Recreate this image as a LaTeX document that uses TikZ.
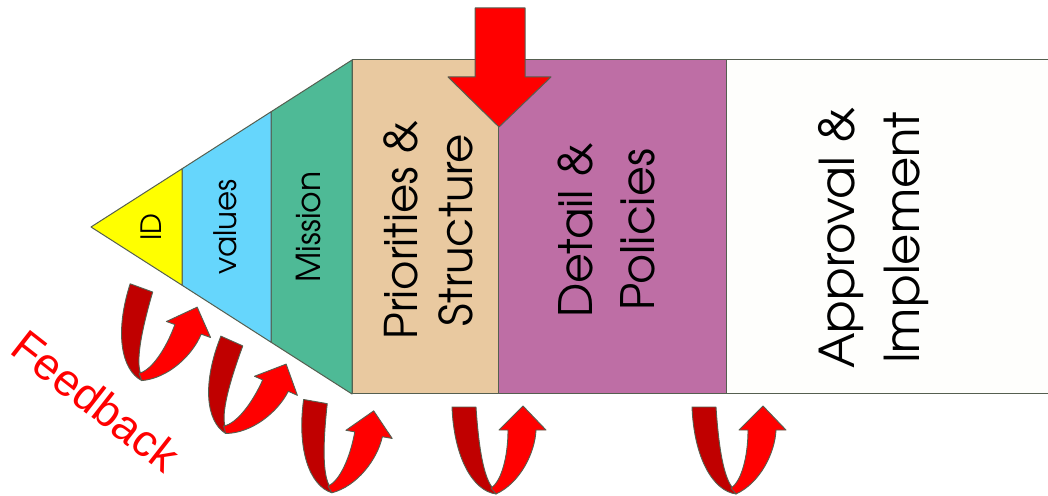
\documentclass[tikz,border=0pt]{standalone}
\usepackage{fontspec}
\setmainfont{TeX Gyre Adventor}
\newfontfamily\fbfont{Liberation Sans}
\definecolor{edgecol}{RGB}{85,95,80}
\definecolor{idyellow}{RGB}{255,255,0}
\definecolor{valblue}{RGB}{102,214,252}
\definecolor{misgreen}{RGB}{78,186,150}
\definecolor{priotan}{RGB}{233,201,160}
\definecolor{detpurple}{RGB}{190,110,165}
\definecolor{appwhite}{RGB}{254,254,252}
\definecolor{darkred}{RGB}{192,0,0}
\definecolor{brightred}{RGB}{255,0,0}
\tikzset{
  seg/.style={draw=edgecol, line width=1pt, line join=round},
  lbl/.style={rotate=90, align=center, text=black, inner sep=0pt},
  ribbon/.style={draw=edgecol, line width=0.9pt, line join=round},
  uturn/.pic={
    \filldraw[ribbon, fill=darkred] (-45,86) .. controls (-43,35) and (-24,2) .. (-1,-1)
       -- (-2,3) .. controls (-12,10) and (-18,40) .. (-21,86) -- cycle;
    \filldraw[ribbon, fill=brightred] (-1,-1) .. controls (23,10) and (38,40) .. (39,63)
       -- (49,63) -- (26,87) -- (2,63) -- (11,63)
       .. controls (11,38) and (5,12) .. (-6,5) -- cycle;
  }
}
\begin{document}
\begin{tikzpicture}[x=1pt,y=1pt]
\useasboundingbox (0,0) rectangle (1048,495);
\clip (0,0) rectangle (1048,495);
% boxes
\filldraw[seg, fill=appwhite] (726,101) rectangle (1060,435);
\filldraw[seg, fill=detpurple] (498,101) rectangle (726,435);
\filldraw[seg, fill=priotan] (352,101) rectangle (498,435);
% triangle segments
\filldraw[seg, fill=misgreen] (271,383.2) -- (352,435) -- (352,101) -- (271,152.8) -- cycle;
\filldraw[seg, fill=valblue] (182,326.2) -- (271,383.2) -- (271,152.8) -- (182,209.8) -- cycle;
\filldraw[seg, fill=idyellow] (91,268) -- (182,326.2) -- (182,209.8) -- cycle;
% labels
\node[lbl, font=\fontsize{28}{32}\selectfont] (id) at (151,268) {ID};
\node[lbl, font=\fontsize{31}{36}\selectfont] (val) at (225,268) {values};
\node[lbl, font=\fontsize{33}{38}\selectfont] (mis) at (309,268) {Mission};
\node[lbl, font=\fontsize{45}{55}\selectfont] (prio) at (428,265) {Priorities \&\\Structure};
\node[lbl, font=\fontsize{46}{62}\selectfont] (det) at (606,265) {Detail \&\\Policies};
\node[lbl, font=\fontsize{48}{65}\selectfont] (app) at (874,257) {Approval \&\\Implement};
% feedback arrows
\pic[rotate=-20] (fa) at (143,115) {uturn};
\pic[rotate=-24] (fb) at (227,62) {uturn};
\pic[rotate=-10] (fc) at (333,3) {uturn};
\pic (fd) at (497,2) {uturn};
\pic (fe) at (737,2) {uturn};
% top arrow
\filldraw[seg, fill=brightred] (475,487) -- (525,487) -- (525,418) -- (551,418)
  -- (499,368) -- (448,418) -- (475,418) -- cycle;
% feedback text
\node[text=brightred, rotate=-38, font=\fbfont\fontsize{45}{54}\selectfont] (fbtxt) at (96,94) {Feedback};
\end{tikzpicture}
\end{document}
